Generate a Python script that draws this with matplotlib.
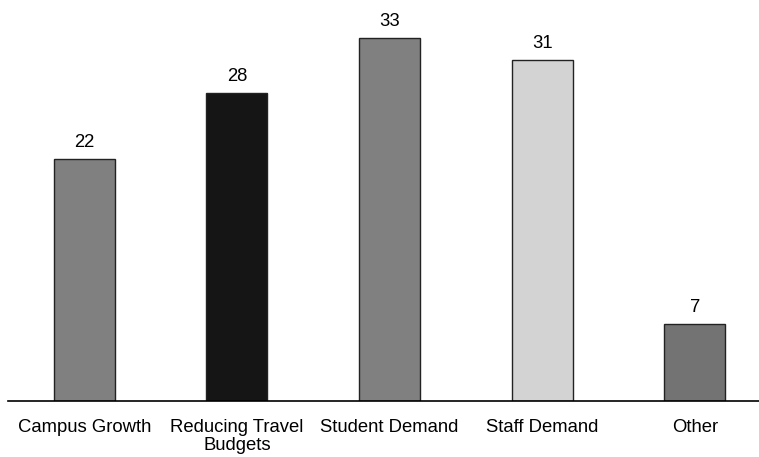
import matplotlib
matplotlib.use("Agg")
import matplotlib.pyplot as plt

categories = ["Campus Growth", "Reducing Travel\nBudgets", "Student Demand", "Staff Demand", "Other"]
values = [22, 28, 33, 31, 7]
colors = ["#808080", "#151515", "#808080", "#d3d3d3", "#737373"]

plt.rcParams['font.family'] = ['Liberation Sans', 'DejaVu Sans']

fig = plt.figure(figsize=(7.59, 4.57), dpi=100)
ax = fig.add_axes([8 / 759, (457 - 401) / 457, 751 / 759, 396 / 457])

x = range(len(categories))
bars = ax.bar(x, values, width=0.4, color=colors, edgecolor="#222222", linewidth=1)

for rect, v in zip(bars, values):
    ax.annotate(str(v), (rect.get_x() + rect.get_width() / 2, v),
                xytext=(0, 6), textcoords="offset points",
                ha="center", va="bottom", fontsize=13.3)

ax.set_xticks(list(x))
ax.set_xticklabels(categories, fontsize=13.3, linespacing=1.1)
ax.tick_params(axis="x", length=0, pad=13)
ax.set_yticks([])
ax.set_xlim(-0.5, 4.42)
ax.set_ylim(0, 36)
for side in ["top", "right", "left"]:
    ax.spines[side].set_visible(False)
ax.spines["bottom"].set_linewidth(1.2)

fig.savefig("out.png", dpi=100)
